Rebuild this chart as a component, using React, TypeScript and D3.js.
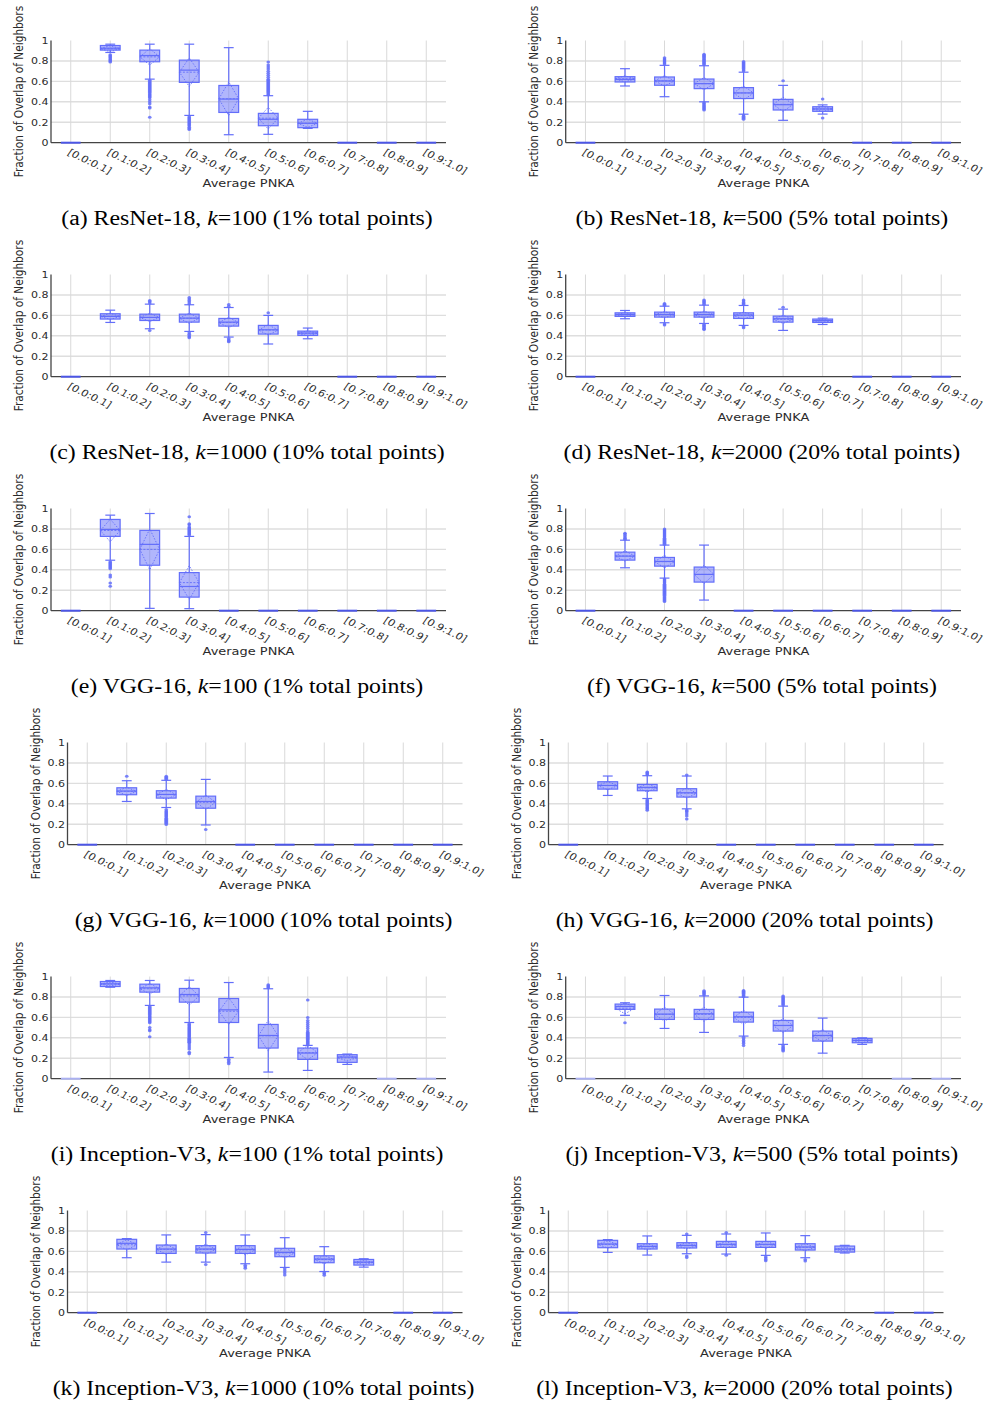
import React from "react";
import * as d3 from "d3";

// ---------- data ----------
const categories = ["[0.0:0.1]", "[0.1:0.2]", "[0.2:0.3]", "[0.3:0.4]", "[0.4:0.5]", "[0.5:0.6]", "[0.6:0.7]", "[0.7:0.8]", "[0.8:0.9]", "[0.9:1.0]"];
const yTicks = [0, 0.2, 0.4, 0.6, 0.8, 1];
const yTickLabels = ["0", "0.2", "0.4", "0.6", "0.8", "1"];

type Box = { q1: number; med: number; q3: number; lo: number; hi: number; mean: number; sd: number; out: number[] } | null;
const B = (q1: number, med: number, q3: number, lo: number, hi: number, mean: number, sd: number, out: number[] = []): Box => ({ q1, med, q3, lo, hi, mean, sd, out });

const resnet18_k100: Box[] = [
  null,
  B(0.906, 0.925, 0.951, 0.883, 0.964, 0.92, 0.03, [0.86, 0.85, 0.84, 0.83, 0.82, 0.81, 0.8, 0.79]),
  B(0.792, 0.853, 0.906, 0.622, 0.964, 0.84, 0.08, [0.61, 0.6, 0.59, 0.58, 0.57, 0.56, 0.55, 0.54, 0.53, 0.52, 0.51, 0.5, 0.49, 0.48, 0.47, 0.46, 0.45, 0.44, 0.42, 0.4, 0.38, 0.35, 0.34, 0.25]),
  B(0.59, 0.71, 0.808, 0.267, 0.964, 0.69, 0.14, [0.255, 0.245, 0.235, 0.225, 0.215, 0.205, 0.195, 0.185, 0.175, 0.165, 0.15, 0.14, 0.13]),
  B(0.296, 0.427, 0.56, 0.078, 0.93, 0.43, 0.165),
  B(0.166, 0.229, 0.287, 0.082, 0.46, 0.24, 0.106, [0.47, 0.48, 0.49, 0.5, 0.51, 0.52, 0.53, 0.54, 0.55, 0.56, 0.57, 0.58, 0.59, 0.6, 0.61, 0.62, 0.64, 0.66, 0.68, 0.7, 0.72, 0.74, 0.76, 0.79]),
  B(0.147, 0.19, 0.229, 0.14, 0.307, 0.19, 0.04),
  null, null, null,
];

const resnet18_k500: Box[] = [
  null,
  B(0.594, 0.62, 0.646, 0.555, 0.724, 0.625, 0.03),
  B(0.562, 0.604, 0.643, 0.45, 0.757, 0.605, 0.05, [0.77, 0.78, 0.79, 0.8, 0.81, 0.82, 0.83]),
  B(0.529, 0.578, 0.623, 0.4, 0.753, 0.578, 0.06, [0.765, 0.775, 0.785, 0.795, 0.805, 0.815, 0.825, 0.835, 0.845, 0.855, 0.865, 0.39, 0.38, 0.37, 0.36, 0.35, 0.34, 0.33, 0.32]),
  B(0.432, 0.487, 0.539, 0.279, 0.69, 0.487, 0.07, [0.705, 0.715, 0.725, 0.735, 0.745, 0.755, 0.765, 0.775, 0.785, 0.795, 0.27, 0.26, 0.25, 0.24, 0.23]),
  B(0.32, 0.372, 0.424, 0.219, 0.561, 0.375, 0.07, [0.606]),
  B(0.307, 0.33, 0.352, 0.28, 0.37, 0.33, 0.025, [0.427, 0.241]),
  null, null, null,
];

const resnet18_k1000: Box[] = [
  null,
  B(0.564, 0.59, 0.616, 0.531, 0.651, 0.59, 0.03),
  B(0.55, 0.58, 0.612, 0.469, 0.71, 0.58, 0.04, [0.72, 0.735, 0.746, 0.453]),
  B(0.534, 0.573, 0.612, 0.443, 0.704, 0.572, 0.05, [0.715, 0.73, 0.745, 0.76, 0.775, 0.43, 0.415, 0.4, 0.39, 0.381]),
  B(0.495, 0.534, 0.57, 0.388, 0.677, 0.53, 0.05, [0.69, 0.707, 0.375, 0.36, 0.35, 0.342]),
  B(0.417, 0.459, 0.502, 0.32, 0.6, 0.457, 0.05, [0.625]),
  B(0.404, 0.427, 0.446, 0.371, 0.476, 0.425, 0.025),
  null, null, null,
];

const resnet18_k2000: Box[] = [
  null,
  B(0.59, 0.609, 0.625, 0.567, 0.648, 0.607, 0.02),
  B(0.583, 0.609, 0.632, 0.528, 0.69, 0.607, 0.03, [0.7, 0.71, 0.717, 0.515, 0.505]),
  B(0.583, 0.609, 0.632, 0.521, 0.7, 0.607, 0.035, [0.71, 0.72, 0.73, 0.74, 0.75, 0.51, 0.5, 0.49, 0.48, 0.47, 0.463]),
  B(0.57, 0.603, 0.625, 0.502, 0.697, 0.598, 0.035, [0.707, 0.717, 0.727, 0.74, 0.75, 0.49, 0.479]),
  B(0.534, 0.567, 0.593, 0.453, 0.661, 0.562, 0.04, [0.68]),
  B(0.531, 0.55, 0.564, 0.511, 0.573, 0.546, 0.015),
  null, null, null,
];

const vgg16_k100: Box[] = [
  null,
  B(0.727, 0.795, 0.893, 0.494, 0.935, 0.785, 0.11, [0.48, 0.47, 0.46, 0.45, 0.44, 0.43, 0.42, 0.41, 0.35, 0.33, 0.27, 0.24]),
  B(0.445, 0.649, 0.786, 0.023, 0.951, 0.6, 0.2),
  B(0.133, 0.237, 0.373, 0.02, 0.727, 0.275, 0.165, [0.74, 0.75, 0.76, 0.77, 0.78, 0.79, 0.8, 0.81, 0.82, 0.84, 0.85, 0.92]),
  null, null, null, null, null, null,
];

const vgg16_k500: Box[] = [
  null,
  B(0.495, 0.534, 0.573, 0.42, 0.69, 0.535, 0.05, [0.7, 0.71, 0.72, 0.735, 0.75, 0.759]),
  B(0.436, 0.482, 0.521, 0.319, 0.642, 0.48, 0.06, [0.65, 0.66, 0.67, 0.68, 0.69, 0.7, 0.71, 0.72, 0.73, 0.74, 0.75, 0.76, 0.77, 0.78, 0.79, 0.8, 0.31, 0.3, 0.29, 0.28, 0.27, 0.26, 0.25, 0.24, 0.23, 0.22, 0.21, 0.2, 0.19, 0.18, 0.17, 0.16, 0.15, 0.14, 0.13, 0.12, 0.11, 0.1, 0.09]),
  B(0.28, 0.355, 0.427, 0.104, 0.642, 0.355, 0.09),
  null, null, null, null, null, null,
];

const vgg16_k1000: Box[] = [
  null,
  B(0.489, 0.525, 0.557, 0.423, 0.626, 0.522, 0.04, [0.669]),
  B(0.456, 0.492, 0.528, 0.364, 0.63, 0.49, 0.05, [0.64, 0.65, 0.66, 0.669, 0.344, 0.33, 0.32, 0.31, 0.3, 0.29, 0.28, 0.27, 0.26, 0.25, 0.24, 0.23, 0.22, 0.21, 0.197]),
  B(0.357, 0.423, 0.475, 0.193, 0.639, 0.415, 0.07, [0.148]),
  null, null, null, null, null, null,
];

const vgg16_k2000: Box[] = [
  null,
  B(0.544, 0.58, 0.616, 0.482, 0.672, 0.578, 0.04),
  B(0.528, 0.561, 0.59, 0.452, 0.675, 0.556, 0.04, [0.685, 0.695, 0.705, 0.711, 0.44, 0.43, 0.42, 0.41, 0.4, 0.39, 0.38, 0.37, 0.36, 0.35, 0.338]),
  B(0.466, 0.508, 0.548, 0.351, 0.672, 0.505, 0.05, [0.682, 0.34, 0.33, 0.32, 0.3, 0.28, 0.252]),
  null, null, null, null, null, null,
];

const inception_k100: Box[] = [
  null,
  B(0.902, 0.928, 0.951, 0.895, 0.961, 0.926, 0.02),
  B(0.847, 0.889, 0.925, 0.717, 0.961, 0.88, 0.05, [0.707, 0.697, 0.687, 0.677, 0.667, 0.657, 0.647, 0.637, 0.627, 0.617, 0.607, 0.597, 0.587, 0.577, 0.567, 0.557, 0.547, 0.5, 0.48, 0.47, 0.41]),
  B(0.749, 0.824, 0.883, 0.55, 0.964, 0.81, 0.09, [0.537, 0.527, 0.517, 0.507, 0.497, 0.487, 0.477, 0.467, 0.457, 0.447, 0.437, 0.427, 0.417, 0.407, 0.397, 0.387, 0.377, 0.367, 0.357, 0.35, 0.33, 0.31, 0.29, 0.26, 0.245]),
  B(0.55, 0.674, 0.785, 0.208, 0.941, 0.66, 0.13, [0.19, 0.175, 0.16, 0.147]),
  B(0.3, 0.423, 0.531, 0.065, 0.88, 0.42, 0.15, [0.89, 0.9, 0.91, 0.92]),
  B(0.189, 0.251, 0.3, 0.081, 0.326, 0.255, 0.07, [0.335, 0.345, 0.355, 0.365, 0.375, 0.385, 0.395, 0.405, 0.415, 0.425, 0.435, 0.445, 0.455, 0.47, 0.49, 0.51, 0.53, 0.55, 0.57, 0.6, 0.77]),
  B(0.16, 0.212, 0.235, 0.14, 0.241, 0.205, 0.03),
  null, null,
];

const inception_k500: Box[] = [
  null,
  B(0.678, 0.707, 0.73, 0.62, 0.743, 0.69, 0.055, [0.547]),
  B(0.58, 0.632, 0.681, 0.492, 0.814, 0.63, 0.07),
  B(0.58, 0.635, 0.678, 0.453, 0.81, 0.63, 0.07, [0.82, 0.83, 0.84, 0.85, 0.86]),
  B(0.554, 0.606, 0.651, 0.417, 0.798, 0.6, 0.07, [0.805, 0.815, 0.825, 0.835, 0.845, 0.855, 0.863, 0.405, 0.39, 0.375, 0.36, 0.345, 0.326]),
  B(0.466, 0.521, 0.57, 0.336, 0.71, 0.52, 0.07, [0.72, 0.73, 0.74, 0.75, 0.76, 0.77, 0.78, 0.79, 0.8, 0.81, 0.326, 0.31, 0.3, 0.29, 0.28, 0.27]),
  B(0.368, 0.423, 0.466, 0.25, 0.593, 0.42, 0.06),
  B(0.352, 0.375, 0.394, 0.336, 0.4, 0.373, 0.02),
  null, null,
];

const inception_k1000: Box[] = [
  null,
  B(0.623, 0.679, 0.718, 0.538, 0.725, 0.665, 0.05),
  B(0.58, 0.623, 0.662, 0.495, 0.761, 0.62, 0.05),
  B(0.584, 0.623, 0.656, 0.495, 0.764, 0.62, 0.05, [0.784, 0.472]),
  B(0.58, 0.62, 0.656, 0.479, 0.761, 0.615, 0.05, [0.465, 0.45, 0.436]),
  B(0.548, 0.59, 0.63, 0.443, 0.734, 0.585, 0.05, [0.43, 0.41, 0.39, 0.37]),
  B(0.489, 0.525, 0.557, 0.403, 0.646, 0.52, 0.04, [0.39, 0.38, 0.367]),
  B(0.466, 0.495, 0.521, 0.446, 0.528, 0.492, 0.02),
  null, null,
];

const inception_k2000: Box[] = [
  null,
  B(0.636, 0.672, 0.708, 0.59, 0.715, 0.668, 0.035),
  B(0.623, 0.649, 0.675, 0.564, 0.751, 0.645, 0.03),
  B(0.633, 0.659, 0.685, 0.577, 0.757, 0.655, 0.03, [0.77, 0.555, 0.541]),
  B(0.639, 0.669, 0.698, 0.574, 0.77, 0.665, 0.03, [0.784, 0.561]),
  B(0.639, 0.669, 0.698, 0.561, 0.78, 0.665, 0.035, [0.548, 0.535, 0.52, 0.508]),
  B(0.613, 0.643, 0.675, 0.538, 0.754, 0.64, 0.035, [0.52, 0.505]),
  B(0.593, 0.623, 0.652, 0.584, 0.659, 0.62, 0.02),
  null, null,
];

const panelData = [resnet18_k100, resnet18_k500, resnet18_k1000, resnet18_k2000, vgg16_k100, vgg16_k500, vgg16_k1000, vgg16_k2000, inception_k100, inception_k500, inception_k1000, inception_k2000];
const panelLetters = ["a", "b", "c", "d", "e", "f", "g", "h", "i", "j", "k", "l"];
const panelModels = ["ResNet-18", "ResNet-18", "ResNet-18", "ResNet-18", "VGG-16", "VGG-16", "VGG-16", "VGG-16", "Inception-V3", "Inception-V3", "Inception-V3", "Inception-V3"];
const panelK = [100, 500, 1000, 2000, 100, 500, 1000, 2000, 100, 500, 1000, 2000];
const panelPct = [1, 5, 10, 20, 1, 5, 10, 20, 1, 5, 10, 20];

// ---------- layout ----------
const W = 984, H = 1403;
const SX = 1.2; // horizontal stretch of text in the reference
const ROW_TOP = 40.5, ROW_BOT = 142.7, ROW_STEP = 234;
const COLS_NORMAL: [number, number][] = [[51, 446], [565.7, 961]];
const COLS_SHIFT: [number, number][] = [[67.5, 462.5], [548.5, 943.5]];
const BLUE = "#636efa";
const SANS = "'DejaVu Sans', Verdana, sans-serif";
const SERIF = "'Liberation Serif', 'Times New Roman', serif";

function Panel({ idx }: { idx: number }) {
  const row = Math.floor(idx / 2);
  const col = idx % 2;
  const shifted = row === 3 || row === 5;
  const [x0, x1] = (shifted ? COLS_SHIFT : COLS_NORMAL)[col];
  const yTop = ROW_TOP + row * ROW_STEP;
  const yBot = ROW_BOT + row * ROW_STEP;
  const x = d3.scaleBand<string>().domain(categories).range([x0, x1]).padding(0);
  const y = d3.scaleLinear().domain([0, 1]).range([yBot, yTop]);
  const bw = x.bandwidth() * 0.5;
  const data = panelData[idx];
  const cxMid = (x0 + x1) / 2;
  const faintEmpty = row === 4;

  return (
    <g>
      {/* grid */}
      {yTicks.filter((t) => t > 0 && t < 1).map((t) => (
        <line key={"h" + t} x1={x0} x2={x1} y1={y(t)} y2={y(t)} stroke="#dedede" strokeWidth={1.4} />
      ))}
      {categories.map((c) => (
        <line key={"v" + c} x1={x(c)! + x.bandwidth() / 2} x2={x(c)! + x.bandwidth() / 2} y1={y(1)} y2={yBot} stroke="#d9d9d9" strokeWidth={1} />
      ))}
      {/* axes */}
      <line x1={x0} x2={x0} y1={y(1)} y2={yBot} stroke="#444" strokeWidth={1.3} />
      <line x1={x0} x2={x1} y1={yBot} y2={yBot} stroke="#444" strokeWidth={1.3} />
      {yTicks.map((t, i) => (
        <text key={"yt" + t} transform={`translate(${x0 - 2.5},${y(t) + 3.3}) scale(${SX},1)`} textAnchor="end" fontSize={9.2} fontFamily={SANS} fill="#2a2a2a">{yTickLabels[i]}</text>
      ))}
      {categories.map((c) => (
        <text key={"xt" + c} transform={`translate(${x(c)! + x.bandwidth() / 2 - 4},${yBot + 11.5}) scale(${SX},1) rotate(30)`} fontSize={9.4} fontFamily={SANS} fill="#2a2a2a">{c}</text>
      ))}
      <text transform={`translate(${cxMid},${yBot + 44.5}) scale(${SX},1)`} textAnchor="middle" fontSize={10.8} fontFamily={SANS} fill="#2a2a2a">Average PNKA</text>
      <text transform={`translate(${x0 - 27.7},${(yTop + yBot) / 2}) scale(${SX},1) rotate(-90)`} textAnchor="middle" fontSize={10.6} fontFamily={SANS} fill="#2a2a2a">Fraction of Overlap of Neighbors</text>
      {/* boxes */}
      {data.map((b, i) => {
        const cx = x(categories[i])! + x.bandwidth() / 2;
        const l = cx - bw / 2, r = cx + bw / 2;
        if (!b) {
          return <line key={"e" + i} x1={l} x2={r} y1={yBot} y2={yBot} stroke={faintEmpty ? "#aab0f0" : "#4b55e6"} strokeWidth={2} />;
        }
        const cap = bw * 0.25;
        const diamond = `M${l},${y(b.mean)} L${cx},${y(b.mean + b.sd)} L${r},${y(b.mean)} L${cx},${y(b.mean - b.sd)} Z`;
        return (
          <g key={"b" + i}>
            <rect x={l} y={y(b.q3)} width={bw} height={y(b.q1) - y(b.q3)} fill={BLUE} fillOpacity={0.5} stroke={BLUE} strokeWidth={1.2} />
            <line x1={l} x2={r} y1={y(b.med)} y2={y(b.med)} stroke={BLUE} strokeWidth={1.2} />
            <line x1={cx} x2={cx} y1={y(b.q3)} y2={y(b.hi)} stroke={BLUE} strokeWidth={1.2} />
            <line x1={cx} x2={cx} y1={y(b.q1)} y2={y(b.lo)} stroke={BLUE} strokeWidth={1.2} />
            <line x1={cx - cap} x2={cx + cap} y1={y(b.hi)} y2={y(b.hi)} stroke={BLUE} strokeWidth={1.2} />
            <line x1={cx - cap} x2={cx + cap} y1={y(b.lo)} y2={y(b.lo)} stroke={BLUE} strokeWidth={1.2} />
            <path d={diamond} fill="none" stroke={BLUE} strokeWidth={0.9} strokeDasharray="1.5,1.5" />
            <line x1={l} x2={r} y1={y(b.mean)} y2={y(b.mean)} stroke={BLUE} strokeWidth={0.9} strokeDasharray="2,1.5" />
            {b.out.map((v, j) => (
              <ellipse key={j} cx={cx} cy={y(v)} rx={1.8} ry={1.5} fill={BLUE} fillOpacity={0.85} />
            ))}
          </g>
        );
      })}
      {/* caption */}
      <text transform={`translate(${cxMid - 1.5},${yBot + 82.3}) scale(1.19,1)`} textAnchor="middle" fontSize={20} fontFamily={SERIF} fill="#000">
        {`(${panelLetters[idx]}) ${panelModels[idx]}, `}
        <tspan fontStyle="italic">k</tspan>
        {`=${panelK[idx]} (${panelPct[idx]}% total points)`}
      </text>
    </g>
  );
}

export default function App() {
  return (
    <svg width={W} height={H} viewBox={`0 0 ${W} ${H}`} style={{ position: "absolute", left: 0, top: 0, background: "#fff" }}>
      <rect x={0} y={0} width={W} height={H} fill="#fff" />
      {panelData.map((_, i) => (
        <Panel key={i} idx={i} />
      ))}
    </svg>
  );
}
